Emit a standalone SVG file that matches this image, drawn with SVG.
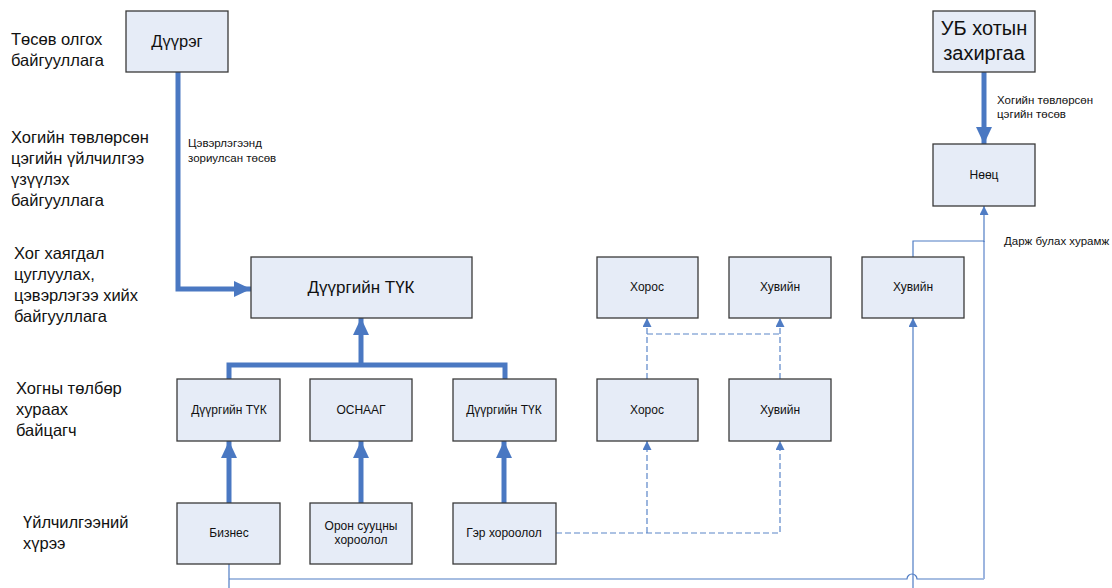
<svg xmlns="http://www.w3.org/2000/svg" width="1112" height="588" viewBox="0 0 1112 588">
<style>
text{font-family:"Liberation Sans",Arial,sans-serif;fill:#111}
.box{fill:#e6ecf7;stroke:#3a3a3a;stroke-width:1.3}
.lbl{font-size:16.5px}
.bt{font-size:12px;text-anchor:middle}
.thick{fill:none;stroke:#4a78c2;stroke-width:5}
.thin{fill:none;stroke:#4f7cc4;stroke-width:1.2}
.dash{fill:none;stroke:#5a85c8;stroke-width:1.2;stroke-dasharray:6 3}
.small{font-size:11.5px}
</style>
<defs>
<marker id="ah" markerUnits="userSpaceOnUse" markerWidth="17" markerHeight="16" refX="17" refY="8" orient="auto">
<path d="M0,0 L17,8 L0,16 z" fill="#4a78c2"/>
</marker>
<marker id="at" markerUnits="userSpaceOnUse" markerWidth="9" markerHeight="9" refX="9" refY="4.5" orient="auto">
<path d="M0,0 L9,4.5 L0,9 z" fill="#4f7cc4"/>
</marker>
</defs>
<rect width="1112" height="588" fill="#fff"/>

<g id="row-labels">
<text class="lbl" x="11" y="45">Төсөв олгох</text>
<text class="lbl" x="11" y="66">байгууллага</text>
<text class="lbl" x="11" y="143">Хогийн төвлөрсөн</text>
<text class="lbl" x="11" y="164">цэгийн үйлчилгээ</text>
<text class="lbl" x="11" y="185">үзүүлэх</text>
<text class="lbl" x="11" y="206">байгууллага</text>
<text class="lbl" x="14" y="259">Хог хаягдал</text>
<text class="lbl" x="14" y="280">цуглуулах,</text>
<text class="lbl" x="14" y="301">цэвэрлэгээ хийх</text>
<text class="lbl" x="14" y="322">байгууллага</text>
<text class="lbl" x="16" y="394">Хогны төлбөр</text>
<text class="lbl" x="16" y="415">хураах</text>
<text class="lbl" x="16" y="436">байцагч</text>
<text class="lbl" x="23" y="528">Үйлчилгээний</text>
<text class="lbl" x="23" y="549">хүрээ</text>
</g>

<g id="connectors">
<path class="thick" d="M178,72 V289 H251" marker-end="url(#ah)"/>
<path class="thick" d="M229,379 V365 H505 V379"/>
<path class="thick" d="M361,365 V318" marker-end="url(#ah)"/>
<path class="thick" d="M229,503 V441" marker-end="url(#ah)"/>
<path class="thick" d="M361,503 V441" marker-end="url(#ah)"/>
<path class="thick" d="M504,503 V441" marker-end="url(#ah)"/>
<path class="thick" d="M984,72 V144" marker-end="url(#ah)"/>
<path class="dash" d="M556,533 H780 V441" marker-end="url(#at)"/>
<path class="dash" d="M647,533 V441" marker-end="url(#at)"/>
<path class="dash" d="M647,379 V318" marker-end="url(#at)"/>
<path class="dash" d="M780,379 V318" marker-end="url(#at)"/>
<path class="dash" d="M647,334 H780"/>
<path class="thin" d="M229,564 V588"/>
<path class="thin" d="M229,579 H907 A5,5 0 0 1 917,579 H984"/>
<path fill="none" stroke="#9db5df" stroke-width="2" d="M984,579 V241"/>
<path class="thin" d="M984,242 V206" marker-end="url(#at)"/>
<path class="thin" d="M913,257 V241 H984"/>
<path class="thin" d="M913,588 V318" marker-end="url(#at)"/>
<text class="small" x="188" y="147">Цэвэрлэгээнд</text>
<text class="small" x="188" y="162">зориулсан төсөв</text>
<text class="small" x="997" y="104">Хогийн төвлөрсөн</text>
<text class="small" x="997" y="118">цэгийн төсөв</text>
<text class="small" x="1004" y="245">Дарж булах хурамж</text>
</g>

<g id="n-duureg"><rect class="box" x="126" y="11" width="102" height="61"/><text x="177" y="47" font-size="16.5" text-anchor="middle">Дүүрэг</text></g>
<g id="n-ub"><rect class="box" x="933" y="11" width="102" height="61"/><text x="984" y="35" font-size="20" text-anchor="middle">УБ хотын</text><text x="984" y="60" font-size="20" text-anchor="middle">захиргаа</text></g>
<g id="n-noots"><rect class="box" x="933" y="144" width="102" height="62"/><text class="bt" x="984" y="179">Нөөц</text></g>
<g id="n-tuk-main"><rect class="box" x="251" y="257" width="221" height="61"/><text x="361" y="293" font-size="17" text-anchor="middle">Дүүргийн ТҮК</text></g>
<g id="n-horos1"><rect class="box" x="597" y="257" width="101" height="61"/><text class="bt" x="647" y="291">Хорос</text></g>
<g id="n-huviin1"><rect class="box" x="729" y="257" width="102" height="61"/><text class="bt" x="780" y="291">Хувийн</text></g>
<g id="n-huviin3"><rect class="box" x="862" y="257" width="102" height="61"/><text class="bt" x="913" y="291">Хувийн</text></g>
<g id="n-tuk1"><rect class="box" x="177" y="379" width="103" height="62"/><text class="bt" x="229" y="414">Дүүргийн ТҮК</text></g>
<g id="n-osnaag"><rect class="box" x="310" y="379" width="102" height="62"/><text class="bt" x="361" y="414">ОСНААГ</text></g>
<g id="n-tuk2"><rect class="box" x="453" y="379" width="103" height="62"/><text class="bt" x="504" y="414">Дүүргийн ТҮК</text></g>
<g id="n-horos2"><rect class="box" x="597" y="379" width="101" height="62"/><text class="bt" x="647" y="414">Хорос</text></g>
<g id="n-huviin2"><rect class="box" x="729" y="379" width="102" height="62"/><text class="bt" x="780" y="414">Хувийн</text></g>
<g id="n-biznes"><rect class="box" x="177" y="503" width="103" height="61"/><text class="bt" x="229" y="537">Бизнес</text></g>
<g id="n-oron"><rect class="box" x="310" y="503" width="102" height="61"/><text class="bt" x="361" y="530">Орон сууцны</text><text class="bt" x="361" y="544">хороолол</text></g>
<g id="n-ger"><rect class="box" x="453" y="503" width="103" height="61"/><text class="bt" x="504" y="537">Гэр хороолол</text></g>
</svg>
